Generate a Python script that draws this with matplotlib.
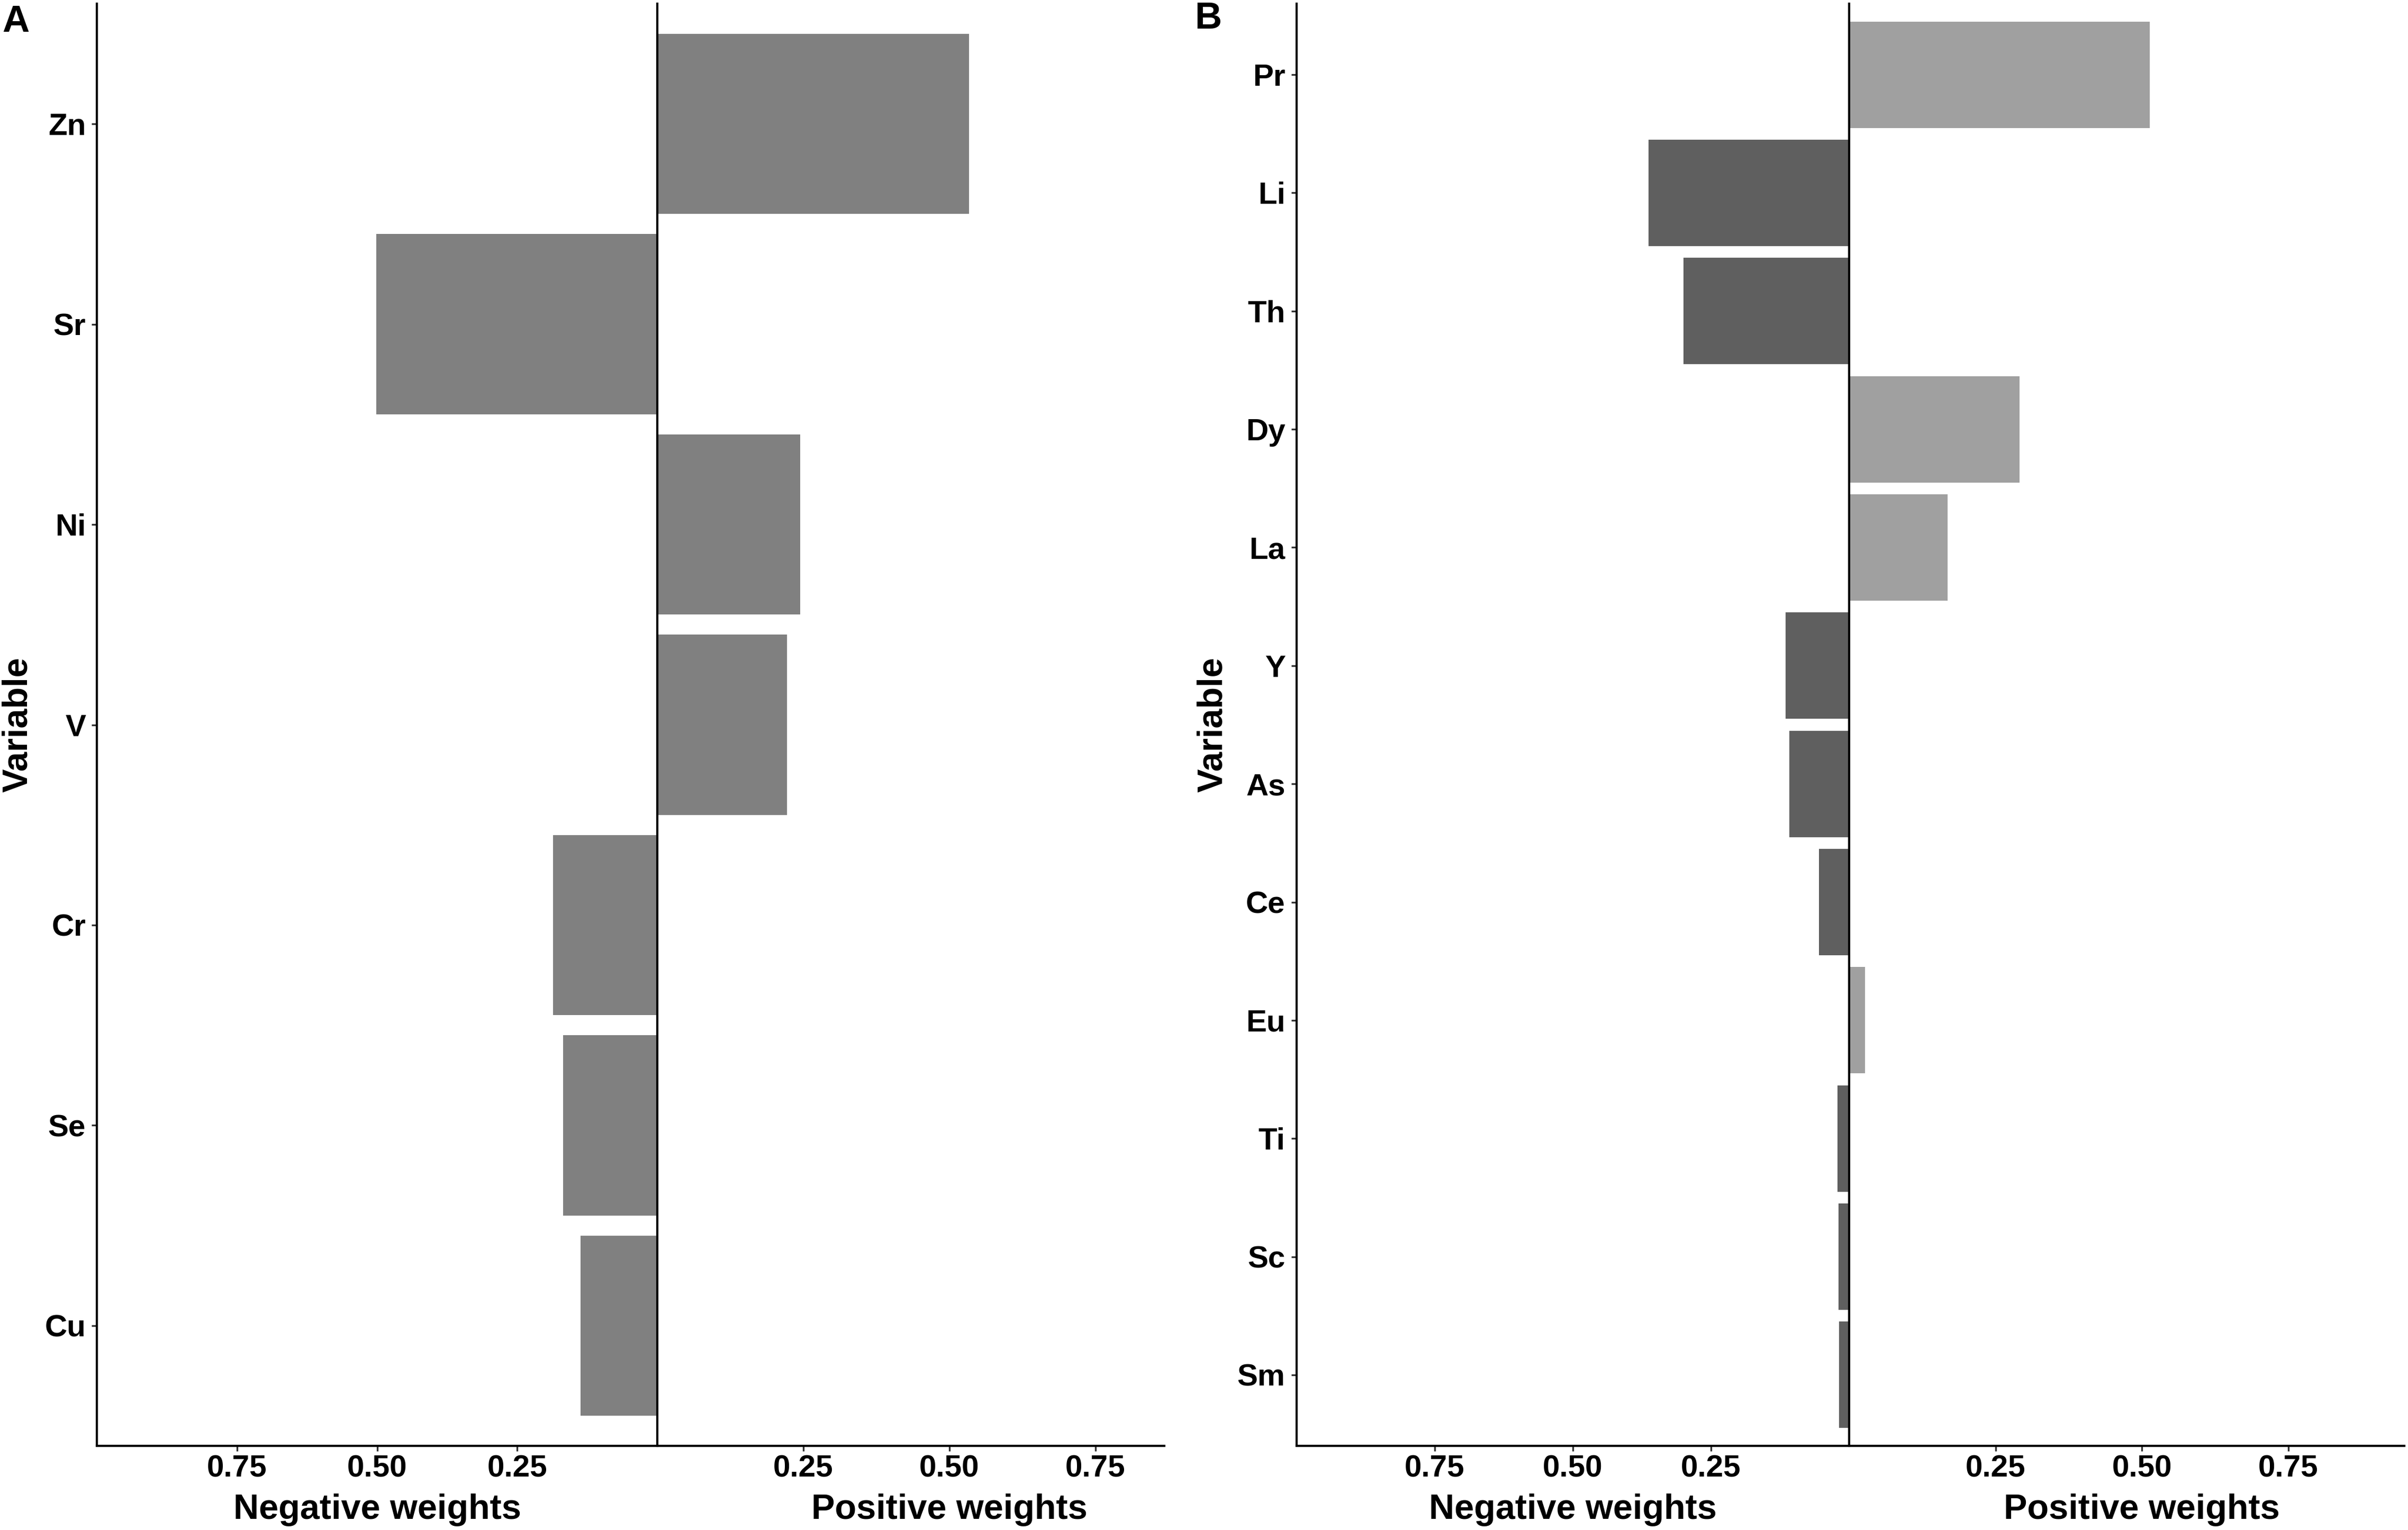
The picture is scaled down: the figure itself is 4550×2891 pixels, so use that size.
import matplotlib
matplotlib.use("Agg")
import matplotlib.pyplot as plt
from matplotlib.transforms import blended_transform_factory

plt.rcParams['font.family'] = ['Liberation Sans', 'DejaVu Sans']
plt.rcParams['font.weight'] = 'bold'
plt.rcParams['axes.labelweight'] = 'bold'

# ---- data ----
vars_a = ["Zn", "Sr", "Ni", "V", "Cr", "Se", "Cu"]
weights_a = [0.534, -0.501, 0.245, 0.222, -0.186, -0.168, -0.137]

vars_b = ["Pr", "Li", "Th", "Dy", "La", "Y", "As", "Ce", "Eu", "Ti", "Sc", "Sm"]
weights_b = [0.513, -0.363, -0.300, 0.291, 0.168, -0.115, -0.108, -0.055,
             0.027, -0.021, -0.019, -0.018]

tick_vals = [0.25, 0.50, 0.75]
tick_labels = ["0.25", "0.50", "0.75"]

W, H, DPI = 4550, 2891, 300
fig = plt.figure(figsize=(W / DPI, H / DPI), dpi=DPI)

bottom = 1 - 2732 / H
top = 1 - 7 / H
height = top - bottom

LW = 1.0
TICKC = '#333333'


def panel(x_left, x_zero, x_right, neg_max, pos_max, names, vals, neg_color, pos_color,
          letter, letter_x, letter_y, ylab_x):
    axn = fig.add_axes([x_left / W, bottom, (x_zero - x_left) / W, height])
    axp = fig.add_axes([x_zero / W, bottom, (x_right - x_zero) / W, height])
    n = len(names)
    ypos = list(range(n))
    neg_y = [i for i, v in zip(ypos, vals) if v < 0]
    neg_v = [-v for v in vals if v < 0]
    pos_y = [i for i, v in zip(ypos, vals) if v > 0]
    pos_v = [v for v in vals if v > 0]
    axn.barh(neg_y, neg_v, height=0.9, color=neg_color, linewidth=0)
    axp.barh(pos_y, pos_v, height=0.9, color=pos_color, linewidth=0)
    for ax in (axn, axp):
        ax.set_ylim(n - 1 + 0.6, -0.6)
        ax.spines['top'].set_visible(False)
        ax.spines['right'].set_visible(False)
        ax.spines['left'].set_linewidth(LW)
        ax.spines['bottom'].set_linewidth(LW)
        ax.set_xticks(tick_vals)
        ax.set_xticklabels(tick_labels)
        ax.tick_params(axis='x', labelsize=14, length=2.5, width=0.8, color=TICKC, pad=1.5)
        ax.set_facecolor('none')
    axn.set_xlim(neg_max, 0)
    axp.set_xlim(0, pos_max)
    axn.set_yticks(ypos)
    axn.set_yticklabels(names)
    axn.tick_params(axis='y', labelsize=14, length=2.5, width=0.8, color=TICKC, pad=2.5)
    axp.tick_params(axis='y', left=False, labelleft=False)
    # axis titles
    for ax, lab in ((axn, "Negative weights"), (axp, "Positive weights")):
        tr = blended_transform_factory(ax.transData, fig.transFigure)
        fig.text(0.5, 1 - 2870 / H, lab, transform=tr, ha='center', va='baseline',
                 fontsize=16, fontweight='bold')
    fig.text(letter_x / W, 1 - letter_y / H, letter, ha='left', va='baseline',
             fontsize=17, fontweight='bold')
    yc = 1 - (7 + 2732) / 2 / H
    fig.text(ylab_x / W, yc, "Variable", rotation=90, ha='center', va='center',
             fontsize=16, fontweight='bold')
    return axn, axp


panel(183, 1242, 2200, 1.0, 0.868, vars_a, weights_a, '#808080', '#808080', 'A', 4, 60, 34)
panel(2449.5, 3494, 4543, 1.0, 0.948, vars_b, weights_b, '#5f5f5f', '#a0a0a0', 'B', 2257, 54, 2292)

fig.savefig("out.png", dpi=DPI)
